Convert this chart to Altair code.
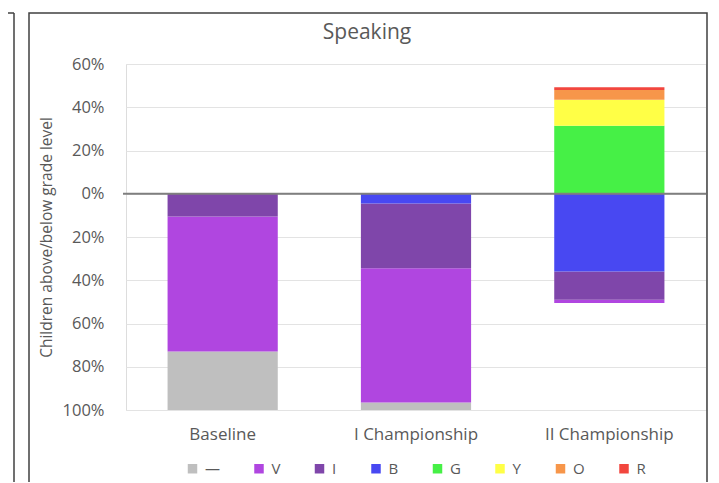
import altair as alt
import pandas as pd

categories = ["Baseline", "I Championship", "II Championship"]
series = ["—", "V", "I", "B", "G", "Y", "O", "R"]
colors = ["#BFBFBF", "#B046E0", "#7F46AA", "#4848F2", "#46F046", "#FFFF46", "#F7964A", "#F2463E"]
stack_order = {"B": 0, "I": 1, "V": 2, "—": 3, "G": 4, "Y": 5, "O": 6, "R": 7}

# share of children per level (negative = below grade level)
values = {
    "—": [-0.27, -0.035, 0.0],
    "V": [-0.625, -0.62, -0.015],
    "I": [-0.105, -0.30, -0.13],
    "B": [0.0, -0.045, -0.36],
    "G": [0.0, 0.0, 0.315],
    "Y": [0.0, 0.0, 0.12],
    "O": [0.0, 0.0, 0.045],
    "R": [0.0, 0.0, 0.012],
}

rows = []
for s in series:
    for c, v in zip(categories, values[s]):
        if v != 0:
            rows.append({"cat": c, "level": s, "value": v, "ord": stack_order[s]})
df = pd.DataFrame(rows)

FONT = "Open Sans"
GREY = "#595959"

bars = alt.Chart(df).mark_bar().encode(
    x=alt.X("cat:N", sort=categories, title=None,
            scale=alt.Scale(paddingInner=0.43, paddingOuter=0.215),
            axis=alt.Axis(labelAngle=0, domain=False, ticks=False, labelPadding=16,
                          labelFontSize=17, labelColor=GREY, labelFont=FONT)),
    y=alt.Y("value:Q", stack="zero", title="Children above/below grade level",
            scale=alt.Scale(domain=[-1, 0.6], nice=False),
            axis=alt.Axis(values=[-1, -0.8, -0.6, -0.4, -0.2, 0, 0.2, 0.4, 0.6],
                          labelExpr="format(abs(datum.value), '.0%')",
                          domain=False, ticks=False, labelPadding=22,
                          gridColor="#E3E3E3", labelFontSize=16.5, labelColor=GREY,
                          labelFont=FONT, titleFont=FONT, titleFontSize=15.5,
                          titleFontWeight="normal", titleColor=GREY, titlePadding=8)),
    color=alt.Color("level:N", scale=alt.Scale(domain=series, range=colors),
                    legend=alt.Legend(title=None, orient="none", direction="horizontal",
                                      legendX=59, legendY=397, columns=8,
                                      symbolType="square", symbolSize=90,
                                      symbolStrokeWidth=0, columnPadding=31.5,
                                      labelOffset=5, labelFontSize=15,
                                      labelColor=GREY, labelFont=FONT)),
    order=alt.Order("ord:Q"),
)

zero = alt.Chart(pd.DataFrame({"z": [0]})).mark_rule(color="#7F7F7F", strokeWidth=2).encode(
    y="z:Q", x=alt.value(-3), x2=alt.value(580)
)

one = pd.DataFrame({"a": [0]})
title = alt.Chart(one).mark_text(text="Speaking", font=FONT, fontSize=21, color=GREY,
                                 align="center", baseline="alphabetic").encode(
    x=alt.value(241), y=alt.value(-25)
)
frame = alt.Chart(one).mark_rect(fill=None, stroke="#404040", strokeWidth=1.5).encode(
    x=alt.value(-97), x2=alt.value(581), y=alt.value(-51), y2=alt.value(440)
)
left_line = alt.Chart(one).mark_rule(color="#404040", strokeWidth=1.5).encode(
    x=alt.value(-112), y=alt.value(-51), y2=alt.value(440)
)
left_top = alt.Chart(one).mark_rule(color="#404040", strokeWidth=1.5).encode(
    x=alt.value(-125), x2=alt.value(-112), y=alt.value(-51), y2=alt.value(-51)
)

chart = alt.layer(bars, zero, title, frame, left_line, left_top).properties(
    width=580, height=346,
    autosize=alt.AutoSizeParams(type="none"),
    padding={"left": 118, "top": 56, "right": 5, "bottom": 72},
).configure_view(stroke=None).configure(background="white")

chart.save("out.html", embed_options={"renderer": "svg", "actions": False})
